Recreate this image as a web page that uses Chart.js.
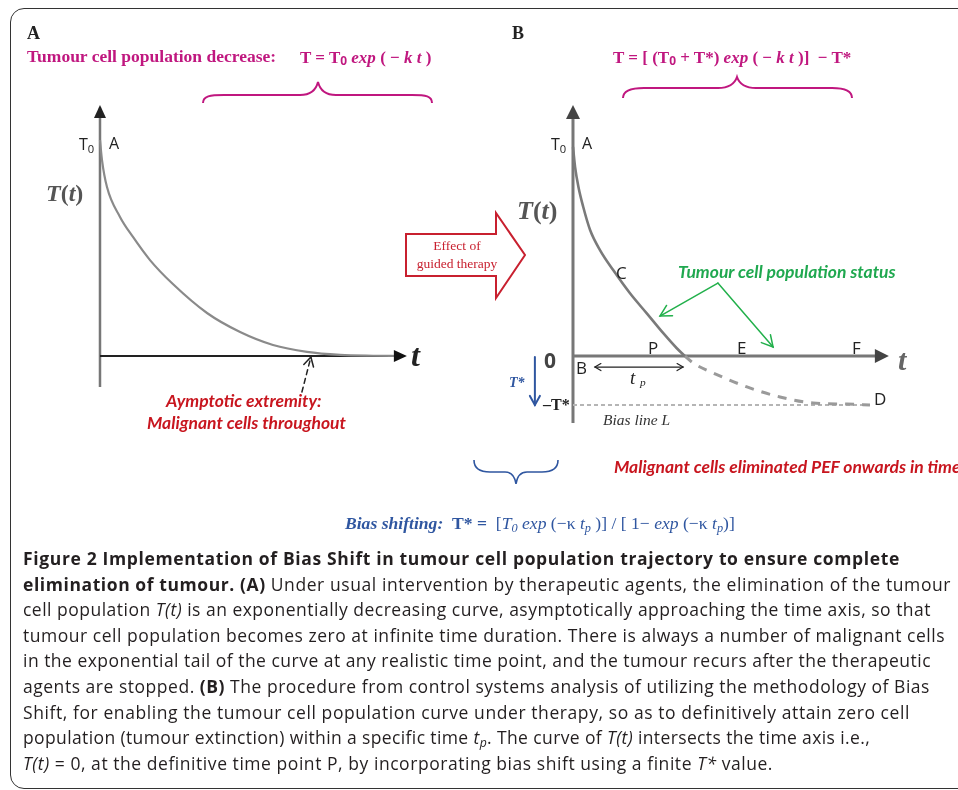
<!DOCTYPE html>
<html>
<head>
<meta charset="utf-8">
<script src="https://cdn.jsdelivr.net/npm/chart.js@4.4.1/dist/chart.umd.min.js"></script>
<style>
  body { margin: 0; width: 958px; height: 790px; overflow: hidden; background: #fff; position: relative; }
  .frame { position: absolute; left: 10px; top: 8px; width: 980px; height: 779px; border: 1.6px solid #333; border-radius: 14px; }
  canvas { position: absolute; }
  .lbl { position: absolute; white-space: nowrap; line-height: 1; transform: translateY(-50%); }
  .serif { font-family: "Liberation Serif", "DejaVu Serif", serif; }
  .sans { font-family: "Open Sans", "DejaVu Sans", sans-serif; }
  .lato { font-family: Lato, "Open Sans", sans-serif; }
  .mag { color: #c0177f; font-weight: bold; font-size: 17.5px; }
  .red { color: #c8161f; font-weight: bold; font-style: italic; font-size: 17.5px; }
  .pt { font-size: 17px; color: #222; }
  .cap { position: absolute; left: 23px; white-space: nowrap; line-height: 1; transform: translateY(-50%);
         font-family: "Open Sans", sans-serif; font-size: 17.5px; color: #231f20; }
  sub { font-size: 70%; vertical-align: -0.25em; line-height: 0; }
</style>
</head>
<body>
<div class="frame"></div>

<canvas id="chartA" width="370" height="310" style="left:60px;top:95px"></canvas>
<canvas id="chartB" width="420" height="340" style="left:500px;top:95px"></canvas>

<svg width="958" height="790" style="position:absolute;left:0;top:0;pointer-events:none">
  <!-- accolades -->
  <path d="M203,103 C203,96 210,95 224,95 L300,95 C311,95 316,90 318,82 C320,90 325,95 336,95 L412,95 C426,95 432,96 432,103"
        fill="none" stroke="#c0177f" stroke-width="2"/>
  <path d="M623,98 C623,91 630,88 644,88 L718,88 C730,88 735,83 737,77 C739,83 744,88 756,88 L832,88 C846,88 852,91 852,98"
        fill="none" stroke="#c0177f" stroke-width="2"/>
  <path d="M474,460 C474,468 479,472 490,472 L505,472 C512,472 515,477 516,484 C517,477 520,472 527,472 L542,472 C553,472 558,468 558,460"
        fill="none" stroke="#2f56a0" stroke-width="1.6"/>
  <!-- fleche "Effect of guided therapy" -->
  <polygon points="406,234 496,234 496,213 525,255 496,298 496,276 406,276" fill="#fff" stroke="#c8202f" stroke-width="2"/>
  <text x="457" y="250" text-anchor="middle" font-family="Liberation Serif" font-size="13.5" fill="#c8202f">Effect of</text>
  <text x="457" y="268" text-anchor="middle" font-family="Liberation Serif" font-size="13.5" fill="#c8202f">guided therapy</text>
</svg>

<!-- en-tetes -->
<div class="lbl serif" style="left:27px;top:33px;font-size:18px;font-weight:bold;color:#222">A</div>
<div class="lbl serif mag" style="left:27px;top:57px">Tumour cell population decrease:</div>
<div class="lbl serif mag" style="left:300px;top:57px;font-size:17px">T = T<sub style="font-family:'Open Sans'">0</sub> <i>exp</i> ( − <i>k t</i> )</div>
<div class="lbl serif" style="left:512px;top:33px;font-size:18px;font-weight:bold;color:#222">B</div>
<div class="lbl serif mag" style="left:613px;top:57px;font-size:17px">T = [ (T<sub style="font-family:'Open Sans'">0</sub> + T*) <i>exp</i> ( − <i>k t</i> )]&nbsp; − T*</div>

<!-- panneau A -->
<div class="lbl sans" style="left:79px;top:144px;font-size:16px;color:#222">T<sub>0</sub></div>
<div class="lbl sans" style="left:109px;top:143px;font-size:16px;color:#222">A</div>
<div class="lbl serif" style="left:46px;top:193px;font-size:24px;color:#555;font-weight:bold"><i>T</i>(<i>t</i>)</div>
<div class="lbl serif" style="left:411px;top:355px;font-size:32px;color:#222;font-weight:bold;font-style:italic">t</div>
<div class="lbl lato red" style="left:166px;top:401px">Aymptotic extremity:</div>
<div class="lbl lato red" style="left:147px;top:423px">Malignant cells throughout</div>

<!-- panneau B -->
<div class="lbl sans" style="left:551px;top:144px;font-size:16px;color:#222">T<sub>0</sub></div>
<div class="lbl sans" style="left:582px;top:143px;font-size:16px;color:#222">A</div>
<div class="lbl serif" style="left:517px;top:211px;font-size:26px;color:#555;font-weight:bold"><i>T</i>(<i>t</i>)</div>
<div class="lbl sans pt" style="left:616px;top:272px">C</div>
<div class="lbl sans pt" style="left:648px;top:347px">P</div>
<div class="lbl sans pt" style="left:737px;top:347px">E</div>
<div class="lbl sans pt" style="left:852px;top:347px">F</div>
<div class="lbl serif" style="left:898px;top:360px;font-size:30px;color:#666;font-weight:bold;font-style:italic">t</div>
<div class="lbl sans" style="left:544px;top:360px;font-size:21px;color:#444;font-weight:bold">0</div>
<div class="lbl sans pt" style="left:576px;top:367px">B</div>
<div class="lbl serif" style="left:630px;top:377px;font-size:19px;color:#222;font-style:italic">t <sub style="font-size:60%">p</sub></div>
<div class="lbl serif" style="left:509px;top:383px;font-size:14px;color:#2f56a0;font-weight:bold;font-style:italic">T*</div>
<div class="lbl serif" style="left:543px;top:405px;font-size:16px;color:#222;font-weight:bold">–T*</div>
<div class="lbl serif" style="left:603px;top:420px;font-size:15.5px;color:#333;font-style:italic">Bias line L</div>
<div class="lbl sans pt" style="left:874px;top:398px">D</div>
<div class="lbl lato" style="left:678px;top:272px;font-size:17.5px;color:#1fa84f;font-weight:bold;font-style:italic">Tumour cell population status</div>
<div class="lbl lato red" style="left:614px;top:467px">Malignant cells eliminated PEF onwards in time</div>

<div class="lbl serif" style="left:345px;top:524px;font-size:17.6px;color:#2f56a0">
  <b><i>Bias shifting:</i></b>&nbsp; <b>T* =</b>&nbsp; [<i>T<sub>0</sub> exp</i> (−κ <i>t<sub>p</sub></i> )] / [ 1− <i>exp</i> (−κ <i>t<sub>p</sub></i>)]
</div>

<!-- legende -->
<div class="cap" style="font-weight:bold" data-w="900">Figure 2 Implementation of Bias Shift in tumour cell population trajectory to ensure complete</div>
<div class="cap" data-w="951"><b>elimination of tumour. (A)</b> Under usual intervention by therapeutic agents, the elimination of the tumour</div>
<div class="cap" data-w="931">cell population <i>T(t)</i> is an exponentially decreasing curve, asymptotically approaching the time axis, so that</div>
<div class="cap" data-w="945">tumour cell population becomes zero at infinite time duration. There is always a number of malignant cells</div>
<div class="cap" data-w="931">in the exponential tail of the curve at any realistic time point, and the tumour recurs after the therapeutic</div>
<div class="cap" data-w="930">agents are stopped. <b>(B)</b> The procedure from control systems analysis of utilizing the methodology of Bias</div>
<div class="cap" data-w="910">Shift, for enabling the tumour cell population curve under therapy, so as to definitively attain zero cell</div>
<div class="cap" data-w="870">population (tumour extinction) within a specific time <i>t<sub>p</sub></i>. The curve of <i>T(t)</i> intersects the time axis i.e.,</div>
<div class="cap" data-w="773"><i>T(t)</i> = 0, at the definitive time point P, by incorporating bias shift using a finite <i>T*</i> value.</div>

<script>
// Donnees (t en unites de temps, T normalise par T0)
const curveA_t = [0, 0.067, 0.233, 0.667, 1.1, 1.667, 2.43, 3.567, 4.67, 5.767, 6.9, 8.0, 9.1, 10.0];
const curveA_T = [1.0, 0.907, 0.782, 0.644, 0.551, 0.444, 0.333, 0.199, 0.111, 0.051, 0.019, 0.005, 0.001, 0];

const curveB_t = [0, 0.07, 0.18, 0.34, 0.57, 0.9, 1.34, 1.9, 2.46, 3.01, 3.46, 3.73];
const curveB_T = [1.0, 0.904, 0.81, 0.714, 0.603, 0.507, 0.411, 0.30, 0.204, 0.109, 0.037, 0];

const tailB_t = [3.73, 4.0, 4.67, 5.8, 6.9, 8.0, 9.13, 9.9];
const tailB_T = [0, -0.033, -0.081, -0.148, -0.196, -0.225, -0.23, -0.234];

const T0 = 1.0;
const Tstar = 0.234;   // decalage de biais
const tp = 3.73;       // instant P

const pts = (xs, ys) => xs.map((v, i) => ({ x: v, y: ys[i] }));

function arrowHead(ctx, x0, y0, x1, y1, len, half, filled) {
  const a = Math.atan2(y1 - y0, x1 - x0);
  const c = Math.cos(a), s = Math.sin(a);
  ctx.beginPath();
  ctx.moveTo(x1 - len * c + half * s, y1 - len * s - half * c);
  ctx.lineTo(x1, y1);
  ctx.lineTo(x1 - len * c - half * s, y1 - len * s + half * c);
  if (filled) { ctx.closePath(); ctx.fill(); } else ctx.stroke();
}

// fleches dessinees en coordonnees de donnees
const decor = {
  id: 'decor',
  afterDatasetsDraw(chart, args, opts) {
    const { ctx, scales: { x, y } } = chart;
    ctx.save();
    (opts.items || []).forEach(it => {
      const x0 = x.getPixelForValue(it.from[0]), y0 = y.getPixelForValue(it.from[1]);
      const x1 = x.getPixelForValue(it.to[0]), y1 = y.getPixelForValue(it.to[1]);
      ctx.strokeStyle = it.color; ctx.fillStyle = it.color;
      ctx.lineWidth = it.width || 1.5; ctx.lineCap = 'round';
      if (it.line) {
        ctx.setLineDash(it.dash || []);
        ctx.beginPath(); ctx.moveTo(x0, y0); ctx.lineTo(x1, y1); ctx.stroke();
        ctx.setLineDash([]);
      }
      arrowHead(ctx, x0, y0, x1, y1, it.len, it.half, it.filled);
      if (it.both) arrowHead(ctx, x1, y1, x0, y0, it.len, it.half, it.filled);
    });
    ctx.restore();
  }
};

function baseOptions(xr, yr, items) {
  return {
    responsive: false, animation: false,
    layout: { padding: 0 },
    plugins: { legend: { display: false }, tooltip: { enabled: false }, decor: { items } },
    scales: {
      x: { type: 'linear', display: false, min: xr[0], max: xr[1] },
      y: { type: 'linear', display: false, min: yr[0], max: yr[1] }
    },
    elements: { point: { radius: 0 } }
  };
}

// Panneau A
new Chart(document.getElementById('chartA'), {
  type: 'scatter',
  data: {
    datasets: [
      { data: pts(curveA_t, curveA_T), showLine: true, borderColor: '#8a8a8a', borderWidth: 2.2, cubicInterpolationMode: 'monotone' },
      { data: [{ x: 0, y: 0 }, { x: 10.0, y: 0 }], showLine: true, borderColor: '#222', borderWidth: 2 },
      { data: [{ x: 0, y: -0.1435 }, { x: 0, y: 1.15 }], showLine: true, borderColor: '#777', borderWidth: 2.5 }
    ]
  },
  options: baseOptions([-1.333, 11.0], [-0.2269, 1.2083], [
    { from: [9.9, 0], to: [10.23, 0], color: '#111', len: 13, half: 6, filled: true },
    { from: [0, 1.1], to: [0, 1.162], color: '#222', len: 13, half: 6, filled: true },
    { from: [6.73, -0.167], to: [7.03, -0.005], line: true, dash: [5, 4], color: '#222', width: 1.5, len: 9, half: 5 }
  ]),
  plugins: [decor]
});

// Panneau B
new Chart(document.getElementById('chartB'), {
  type: 'scatter',
  data: {
    datasets: [
      { data: pts(curveB_t, curveB_T), showLine: true, borderColor: '#7a7a7a', borderWidth: 2.6, cubicInterpolationMode: 'monotone' },
      { data: pts(tailB_t, tailB_T), showLine: true, borderColor: '#9a9a9a', borderWidth: 3, borderDash: [9, 8], cubicInterpolationMode: 'monotone' },
      { data: [{ x: 0, y: -Tstar }, { x: 9.9, y: -Tstar }], showLine: true, borderColor: '#b5b5b5', borderWidth: 2, borderDash: [4, 3] },
      { data: [{ x: 0, y: 0 }, { x: 10.2, y: 0 }], showLine: true, borderColor: '#777', borderWidth: 3 },
      { data: [{ x: 0, y: -0.3206 }, { x: 0, y: 1.18 }], showLine: true, borderColor: '#777', borderWidth: 3 }
    ]
  },
  options: baseOptions([-2.433, 11.567], [-0.378, 1.2488], [
    { from: [10.1, 0], to: [10.53, 0], color: '#444', len: 14, half: 7, filled: true },
    { from: [0, 1.15], to: [0, 1.201], color: '#444', len: 14, half: 7, filled: true },
    { from: [0.73, -0.053], to: [tp - 0.06, -0.053], line: true, both: true, color: '#222', width: 1.2, len: 6, half: 3.5 },
    { from: [-1.27, -0.005], to: [-1.27, -Tstar], line: true, color: '#2f56a0', width: 2, len: 9, half: 5 },
    { from: [4.83, 0.349], to: [2.9, 0.191], line: true, color: '#22b04b', width: 1.5, len: 11, half: 6 },
    { from: [4.83, 0.349], to: [6.67, 0.043], line: true, color: '#22b04b', width: 1.5, len: 11, half: 6 }
  ]),
  plugins: [decor]
});

// lignes de legende : position et ajustement de largeur
document.querySelectorAll('.cap').forEach((el, i) => {
  el.style.top = (559 + i * 25.6) + 'px';
  const target = +el.dataset.w - 23;
  const w = el.getBoundingClientRect().width;
  const n = el.textContent.length;
  el.style.letterSpacing = ((target - w) / n).toFixed(3) + 'px';
});
</script>
</body>
</html>
